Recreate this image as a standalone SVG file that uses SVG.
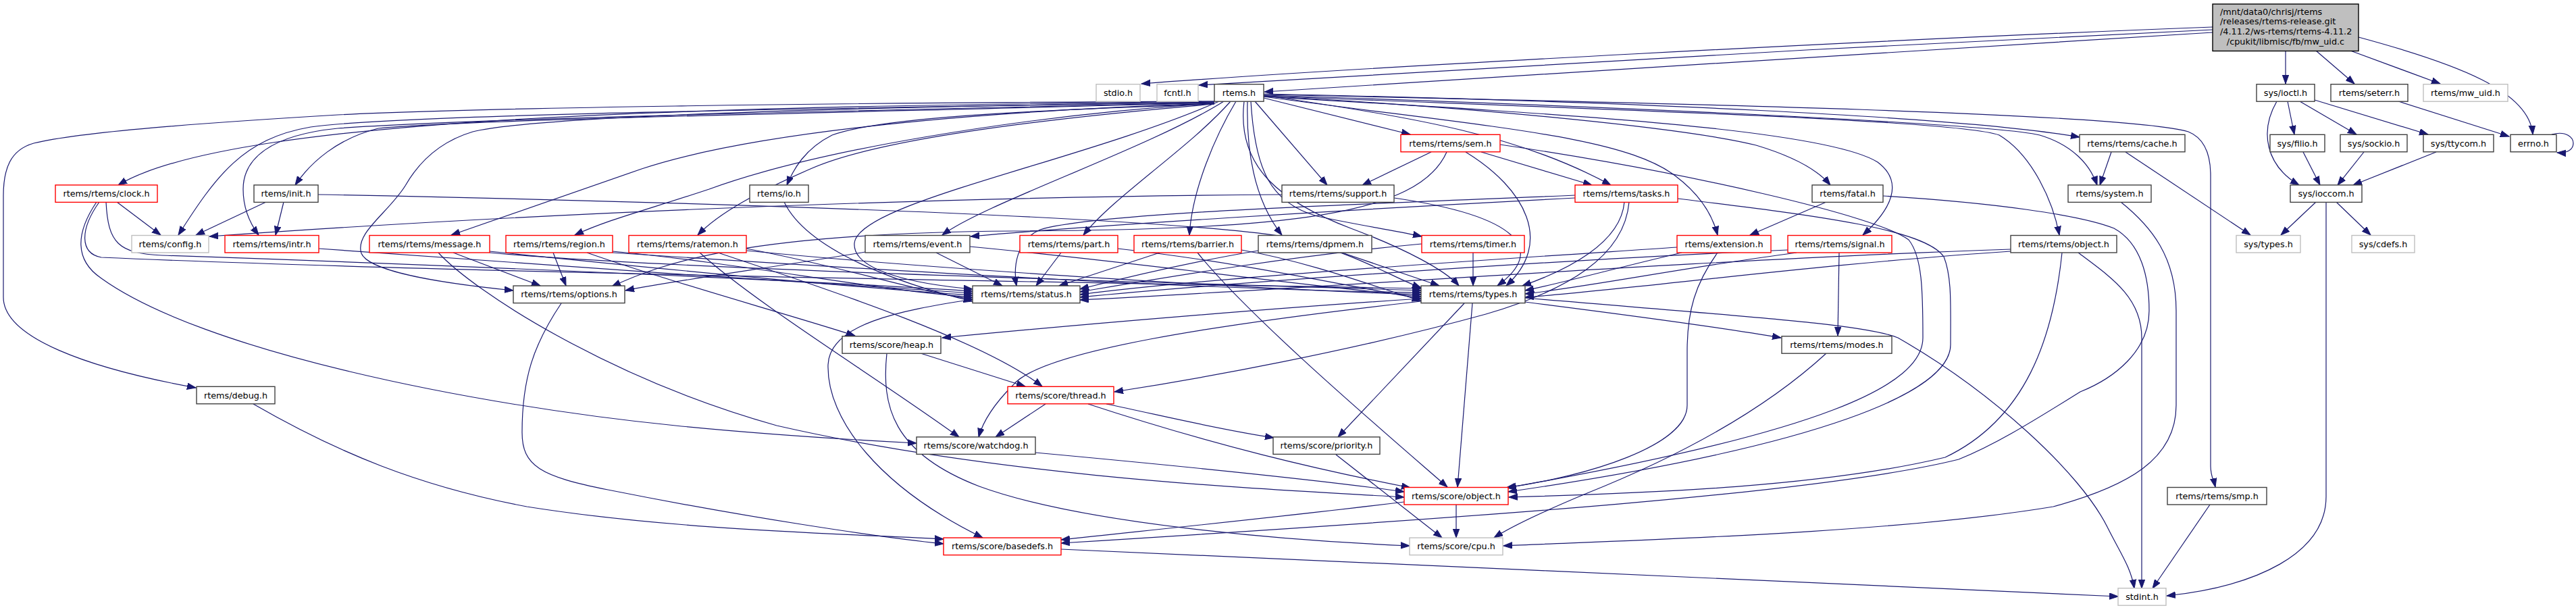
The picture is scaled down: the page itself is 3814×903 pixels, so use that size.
<svg xmlns="http://www.w3.org/2000/svg" width="3814" height="903" viewBox="0 0 3814 903">
<defs>
<marker id="ah" markerWidth="14" markerHeight="11" refX="13" refY="5" orient="auto" markerUnits="userSpaceOnUse"><path d="M0,0.3 L13,5 L0,9.7 Z" fill="#191970" stroke="#191970" stroke-width="1"/></marker>
<style>
.nd rect{fill:#fff;stroke:#404040;stroke-width:1.4}
.nd.r rect{stroke:#ff0000}
.nd.g rect{stroke:#bfbfbf}
.nd text{font-family:"DejaVu Sans","Liberation Sans",sans-serif;font-size:12.8px;fill:#000;text-anchor:middle}
.nd text.l{text-anchor:start}
.e path{fill:none;stroke:#191970;stroke-width:1.2;marker-end:url(#ah)}
</style>
</defs>
<rect width="3814" height="903" fill="#fff"/>
<g id="edges" class="e">
<path d="M3276,40 C2800,58 2000,100 1690,124"/>
<path d="M3276,44 C2800,66 2100,104 1775,126"/>
<path d="M3276,48 C2900,72 2300,108 1872,136"/>
<path d="M3384,75 L3384,124"/>
<path d="M3429,75 L3486,124"/>
<path d="M3480,75 L3613,124"/>
<path d="M3492,55 C3640,95 3745,135 3750,199"/>
<path d="M3371,150 C3345,195 3355,245 3404,274"/>
<path d="M3387,150 L3397,199"/>
<path d="M3405,150 L3489,199"/>
<path d="M3427,148 L3595,199"/>
<path d="M3551,150 L3715,202"/>
<path d="M3778,199 C3800,193 3810,204 3810,212 C3810,221 3802,227 3786,226"/>
<path d="M3410,225 L3435,274"/>
<path d="M3500,225 L3461,274"/>
<path d="M3607,225 L3484,274"/>
<path d="M3429,299 L3377,348"/>
<path d="M3459,299 L3510,348"/>
<path d="M3444,299 L3444,735 C3444,820 3340,868 3208,882"/>
<path d="M3126,225 L3109,274"/>
<path d="M3147,225 L3332,348"/>
<path d="M3140,299 C3185,335 3222,380 3222,460 L3222,600 C3222,680 3150,720 3040,750 C2800,790 2400,800 2226,808"/>
<path d="M2704,299 L2591,348"/>
<path d="M2788,290 C2950,300 3080,318 3130,338 C3170,360 3182,410 3182,460 C3182,520 3130,560 3080,580 C3000,630 2950,660 2900,680 C2700,730 2200,765 1571,804"/>
<path d="M3272,747 L3187,871"/>
<path d="M3077,374 C3125,410 3171,440 3171,500 L3171,871"/>
<path d="M3053,374 C3040,500 3000,620 2880,677 C2700,720 2450,730 2234,736"/>
<path d="M2977,369 C2500,385 1900,430 1599,444"/>
<path d="M2977,372 C2700,390 2400,430 2258,440"/>
<path d="M2723,374 L2721,497"/>
<path d="M2647,370 C2300,385 1800,420 1599,440"/>
<path d="M2660,374 C2500,395 2350,425 2258,435"/>
<path d="M2483,366 C2200,385 1800,410 1599,436"/>
<path d="M2490,374 C2400,395 2300,422 2258,430"/>
<path d="M2543,374 C2510,420 2498,460 2498,520 L2498,600 C2498,660 2350,705 2230,722"/>
<path d="M2332,289 C2000,303 1620,315 1540,340 C1505,355 1500,395 1505,423"/>
<path d="M2332,293 C2000,310 1600,335 1437,350"/>
<path d="M2405,299 C2400,360 2320,400 2254,423"/>
<path d="M2412,299 C2405,380 2320,430 2200,465 C2000,520 1780,560 1650,580"/>
<path d="M2484,294 C2700,320 2850,340 2878,380 C2890,410 2888,450 2888,510 C2888,580 2700,660 2233,728"/>
<path d="M2119,225 L2017,274"/>
<path d="M2193,225 L2357,274"/>
<path d="M2170,225 C2260,280 2300,360 2230,423"/>
<path d="M2142,225 C2100,320 1900,340 1500,342 C1100,345 980,390 906,424"/>
<path d="M2221,214 C2500,255 2780,320 2826,355 C2846,380 2847,430 2847,500 C2847,570 2700,640 2232,722"/>
<path d="M1898,288 C1300,292 700,322 310,350"/>
<path d="M2064,293 C2250,320 2290,370 2217,423"/>
<path d="M2181,374 L2181,423"/>
<path d="M2105,361 C1900,380 1700,415 1599,432"/>
<path d="M1987,374 L2131,423"/>
<path d="M1863,371 C1750,390 1650,415 1599,428"/>
<path d="M1717,374 L1568,423"/>
<path d="M1838,370 C1950,390 2050,430 2104,445"/>
<path d="M1773,374 C1850,470 2050,640 2143,721"/>
<path d="M1571,374 L1534,423"/>
<path d="M1655,368 C1850,390 2000,425 2104,442"/>
<path d="M1281,373 C1150,395 1000,415 926,430"/>
<path d="M1386,374 L1484,423"/>
<path d="M1436,365 C1700,390 1900,420 2104,439"/>
<path d="M1161,299 C1195,370 1330,420 1440,446"/>
<path d="M1105,368 C1250,395 1350,430 1440,443"/>
<path d="M1105,371 C1400,400 1900,430 2104,436"/>
<path d="M1036,374 C1120,450 1300,560 1420,647"/>
<path d="M1063,374 C1200,420 1450,500 1543,572"/>
<path d="M819,374 L838,423"/>
<path d="M869,374 C1000,420 1150,460 1266,497"/>
<path d="M907,372 C1100,390 1300,430 1440,440"/>
<path d="M907,374 C1300,400 1800,430 2104,433"/>
<path d="M671,374 L800,423"/>
<path d="M725,372 C900,390 1250,425 1440,437"/>
<path d="M725,374 C1000,400 1800,420 2104,430"/>
<path d="M649,374 C700,430 900,560 1150,630 C1500,710 1900,725 2079,736"/>
<path d="M472,368 C700,385 1200,420 1440,434"/>
<path d="M394,299 L290,348"/>
<path d="M420,299 L408,348"/>
<path d="M471,288 C1000,298 1700,320 1900,350 C2000,370 2060,410 2104,426"/>
<path d="M173,299 L238,348"/>
<path d="M157,299 C160,360 175,375 240,378 C600,390 1200,415 1440,431"/>
<path d="M147,299 C118,340 118,375 150,381 C700,405 1700,420 2104,427"/>
<path d="M143,299 C112,345 110,385 150,412 C300,520 700,600 1000,630 C1150,645 1280,652 1357,656"/>
<path d="M831,449 C790,510 773,560 773,640 C773,690 800,705 900,725 C1100,765 1300,795 1397,805"/>
<path d="M1440,443 C1330,460 1228,480 1226,540 C1224,620 1300,720 1455,796"/>
<path d="M375,598 C500,670 620,720 780,750 C1000,785 1250,790 1397,798"/>
<path d="M1363,523 L1518,572"/>
<path d="M1313,523 C1305,600 1320,670 1450,720 C1600,775 1900,800 2087,808"/>
<path d="M2104,442 C1900,455 1600,480 1395,500"/>
<path d="M2104,446 C1800,480 1540,520 1500,570 C1470,600 1455,625 1449,647"/>
<path d="M2168,449 L1981,647"/>
<path d="M2180,449 L2158,721"/>
<path d="M2258,447 C2400,465 2550,485 2637,500"/>
<path d="M2258,441 C2600,470 2760,480 2810,500 C2950,580 3080,700 3120,780 C3140,820 3155,840 3160,871"/>
<path d="M1548,598 L1474,647"/>
<path d="M1638,598 C1720,615 1800,635 1886,648"/>
<path d="M1611,598 C1800,660 1950,695 2088,722"/>
<path d="M1533,670 C1750,690 1950,710 2079,728"/>
<path d="M1978,673 L2135,796"/>
<path d="M2156,747 L2156,796"/>
<path d="M2079,743 C1900,765 1700,785 1571,799"/>
<path d="M2704,523 C2620,600 2500,670 2350,730 C2290,755 2240,778 2212,796"/>
<path d="M1571,813 C2000,830 2800,870 3136,883"/>
<path d="M1798,150 C1100,158 350,168 175,274"/>
<path d="M1798,150 C1200,152 700,160 500,170 C300,182 120,195 50,212 C15,222 5,250 5,290 L5,440 C5,500 130,545 290,574"/>
<path d="M1798,151 C1300,160 600,168 460,188 C360,205 320,260 264,348"/>
<path d="M1798,152 C1300,163 700,175 500,190 C400,200 360,235 360,280 C360,305 368,328 383,348"/>
<path d="M1798,152 C1300,166 700,176 560,190 C500,205 460,240 437,274"/>
<path d="M1798,153 C1400,166 1100,200 950,250 C850,285 750,320 668,348"/>
<path d="M1798,153 C1500,172 1200,225 1050,280 C960,310 900,325 851,348"/>
<path d="M1798,154 C1550,175 1300,205 1200,250 C1120,285 1065,315 1033,348"/>
<path d="M1798,154 C1500,164 1300,175 1232,200 C1192,220 1175,250 1165,274"/>
<path d="M1798,151 C1300,158 800,170 700,195 C650,210 620,240 600,275 C575,315 525,345 535,375 C545,400 640,418 760,430"/>
<path d="M1812,150 C1700,220 1460,300 1395,348"/>
<path d="M1822,150 C1760,220 1650,290 1604,348"/>
<path d="M1830,150 C1800,200 1765,280 1761,348"/>
<path d="M1805,150 C1600,240 1270,300 1265,360 C1262,400 1350,420 1440,428"/>
<path d="M1842,150 C1830,250 1900,300 2000,338 C2080,368 2140,400 2160,423"/>
<path d="M1847,150 C1845,230 1860,300 1898,348"/>
<path d="M1852,150 C1858,250 1880,300 1950,320 C2020,335 2070,342 2105,350"/>
<path d="M1858,150 L1965,274"/>
<path d="M1871,145 L2088,199"/>
<path d="M1871,141 C2100,175 2250,200 2385,274"/>
<path d="M1871,142 C2200,160 2500,190 2600,215 C2650,230 2690,250 2710,274"/>
<path d="M1871,143 C2200,188 2400,200 2480,260 C2520,290 2536,320 2543,348"/>
<path d="M1871,143 C2300,168 2700,190 2780,240 C2820,270 2800,310 2758,348"/>
<path d="M1871,142 C2400,163 2900,178 2960,200 C3010,230 3040,300 3049,348"/>
<path d="M1871,139 C2400,150 2900,172 3079,203"/>
<path d="M1871,141 C2400,158 2950,183 3020,200 C3070,215 3095,245 3105,274"/>
<path d="M1871,140 C2500,153 3150,168 3240,195 C3265,205 3273,230 3273,260 L3273,690 C3273,705 3278,712 3280,721"/>
</g>
<g id="n-mw" class="nd"><rect x="3276" y="6" width="216" height="69.5" style="fill:#bfbfbf;stroke:#000"/><text class="l" x="3287" y="21.5">/mnt/data0/chrisj/rtems</text><text class="l" x="3287" y="36.3">/releases/rtems-release.git</text><text class="l" x="3287" y="51">/4.11.2/ws-rtems/rtems-4.11.2</text><text x="3384" y="65.7">/cpukit/libmisc/fb/mw_uid.c</text></g>
<g id="n-stdio" class="nd g"><rect x="1623" y="124.7" width="65" height="25.5"/><text x="1655.5" y="142">stdio.h</text></g>
<g id="n-fcntl" class="nd g"><rect x="1713" y="124.7" width="61" height="25.5"/><text x="1743.5" y="142">fcntl.h</text></g>
<g id="n-rtems" class="nd"><rect x="1798" y="124.7" width="73" height="25.5"/><text x="1834.5" y="142">rtems.h</text></g>
<g id="n-ioctl" class="nd"><rect x="3341" y="124.7" width="86" height="25.5"/><text x="3384" y="142">sys/ioctl.h</text></g>
<g id="n-seterr" class="nd"><rect x="3451" y="124.7" width="114" height="25.5"/><text x="3508" y="142">rtems/seterr.h</text></g>
<g id="n-mwuid" class="nd g"><rect x="3588" y="124.7" width="125" height="25.5"/><text x="3650.5" y="142">rtems/mw_uid.h</text></g>
<g id="n-sem" class="nd r"><rect x="2074" y="199.3" width="147" height="25.5"/><text x="2147.5" y="216.6">rtems/rtems/sem.h</text></g>
<g id="n-cache" class="nd"><rect x="3079" y="199.3" width="156" height="25.5"/><text x="3157" y="216.6">rtems/rtems/cache.h</text></g>
<g id="n-filio" class="nd"><rect x="3361" y="199.3" width="81" height="25.5"/><text x="3401.5" y="216.6">sys/filio.h</text></g>
<g id="n-sockio" class="nd"><rect x="3465" y="199.3" width="99" height="25.5"/><text x="3514.5" y="216.6">sys/sockio.h</text></g>
<g id="n-ttycom" class="nd"><rect x="3588" y="199.3" width="104" height="25.5"/><text x="3640" y="216.6">sys/ttycom.h</text></g>
<g id="n-errno" class="nd"><rect x="3717" y="199.3" width="68" height="25.5"/><text x="3751" y="216.6">errno.h</text></g>
<g id="n-clock" class="nd r"><rect x="82" y="273.9" width="151" height="25.5"/><text x="157.5" y="291.2">rtems/rtems/clock.h</text></g>
<g id="n-init" class="nd"><rect x="376" y="273.9" width="95" height="25.5"/><text x="423.5" y="291.2">rtems/init.h</text></g>
<g id="n-io" class="nd"><rect x="1110" y="273.9" width="87" height="25.5"/><text x="1153.5" y="291.2">rtems/io.h</text></g>
<g id="n-support" class="nd"><rect x="1898" y="273.9" width="166" height="25.5"/><text x="1981" y="291.2">rtems/rtems/support.h</text></g>
<g id="n-tasks" class="nd r"><rect x="2332" y="273.9" width="152" height="25.5"/><text x="2408" y="291.2">rtems/rtems/tasks.h</text></g>
<g id="n-fatal" class="nd"><rect x="2683" y="273.9" width="105" height="25.5"/><text x="2735.5" y="291.2">rtems/fatal.h</text></g>
<g id="n-system" class="nd"><rect x="3062" y="273.9" width="123" height="25.5"/><text x="3123.5" y="291.2">rtems/system.h</text></g>
<g id="n-ioccom" class="nd"><rect x="3391" y="273.9" width="106" height="25.5"/><text x="3444" y="291.2">sys/ioccom.h</text></g>
<g id="n-config" class="nd g"><rect x="195" y="348.5" width="114" height="25.5"/><text x="252" y="365.8">rtems/config.h</text></g>
<g id="n-intr" class="nd r"><rect x="333" y="348.5" width="139" height="25.5"/><text x="402.5" y="365.8">rtems/rtems/intr.h</text></g>
<g id="n-message" class="nd r"><rect x="547" y="348.5" width="178" height="25.5"/><text x="636" y="365.8">rtems/rtems/message.h</text></g>
<g id="n-region" class="nd r"><rect x="749" y="348.5" width="158" height="25.5"/><text x="828" y="365.8">rtems/rtems/region.h</text></g>
<g id="n-ratemon" class="nd r"><rect x="931" y="348.5" width="174" height="25.5"/><text x="1018" y="365.8">rtems/rtems/ratemon.h</text></g>
<g id="n-event" class="nd"><rect x="1281" y="348.5" width="155" height="25.5"/><text x="1358.5" y="365.8">rtems/rtems/event.h</text></g>
<g id="n-part" class="nd r"><rect x="1510" y="348.5" width="145" height="25.5"/><text x="1582.5" y="365.8">rtems/rtems/part.h</text></g>
<g id="n-barrier" class="nd r"><rect x="1679" y="348.5" width="159" height="25.5"/><text x="1758.5" y="365.8">rtems/rtems/barrier.h</text></g>
<g id="n-dpmem" class="nd"><rect x="1863" y="348.5" width="168" height="25.5"/><text x="1947" y="365.8">rtems/rtems/dpmem.h</text></g>
<g id="n-timer" class="nd r"><rect x="2105" y="348.5" width="152" height="25.5"/><text x="2181" y="365.8">rtems/rtems/timer.h</text></g>
<g id="n-extension" class="nd r"><rect x="2483" y="348.5" width="139" height="25.5"/><text x="2552.5" y="365.8">rtems/extension.h</text></g>
<g id="n-signal" class="nd r"><rect x="2647" y="348.5" width="154" height="25.5"/><text x="2724" y="365.8">rtems/rtems/signal.h</text></g>
<g id="n-robject" class="nd"><rect x="2977" y="348.5" width="157" height="25.5"/><text x="3055.5" y="365.8">rtems/rtems/object.h</text></g>
<g id="n-systypes" class="nd g"><rect x="3311" y="348.5" width="95" height="25.5"/><text x="3358.5" y="365.8">sys/types.h</text></g>
<g id="n-cdefs" class="nd g"><rect x="3482" y="348.5" width="93" height="25.5"/><text x="3528.5" y="365.8">sys/cdefs.h</text></g>
<g id="n-options" class="nd"><rect x="760" y="423.1" width="165" height="25.5"/><text x="842.5" y="440.4">rtems/rtems/options.h</text></g>
<g id="n-status" class="nd"><rect x="1440" y="423.1" width="159" height="25.5"/><text x="1519.5" y="440.4">rtems/rtems/status.h</text></g>
<g id="n-types" class="nd"><rect x="2104" y="423.1" width="154" height="25.5"/><text x="2181" y="440.4">rtems/rtems/types.h</text></g>
<g id="n-heap" class="nd"><rect x="1247" y="497.7" width="146" height="25.5"/><text x="1320" y="515">rtems/score/heap.h</text></g>
<g id="n-modes" class="nd"><rect x="2638" y="497.7" width="163" height="25.5"/><text x="2719.5" y="515">rtems/rtems/modes.h</text></g>
<g id="n-debug" class="nd"><rect x="291" y="572.3" width="116" height="25.5"/><text x="349" y="589.6">rtems/debug.h</text></g>
<g id="n-thread" class="nd r"><rect x="1492" y="572.3" width="157" height="25.5"/><text x="1570.5" y="589.6">rtems/score/thread.h</text></g>
<g id="n-watchdog" class="nd"><rect x="1357" y="646.9" width="176" height="25.5"/><text x="1445" y="664.2">rtems/score/watchdog.h</text></g>
<g id="n-priority" class="nd"><rect x="1885" y="646.9" width="158" height="25.5"/><text x="1964" y="664.2">rtems/score/priority.h</text></g>
<g id="n-sobject" class="nd r"><rect x="2079" y="721.5" width="154" height="25.5"/><text x="2156" y="738.8">rtems/score/object.h</text></g>
<g id="n-smp" class="nd"><rect x="3209" y="721.5" width="147" height="25.5"/><text x="3282.5" y="738.8">rtems/rtems/smp.h</text></g>
<g id="n-basedefs" class="nd r"><rect x="1397" y="796.1" width="174" height="25.5"/><text x="1484" y="813.4">rtems/score/basedefs.h</text></g>
<g id="n-cpu" class="nd g"><rect x="2087" y="796.1" width="138" height="25.5"/><text x="2156" y="813.4">rtems/score/cpu.h</text></g>
<g id="n-stdint" class="nd g"><rect x="3136" y="870.7" width="71" height="25.5"/><text x="3171.5" y="888">stdint.h</text></g>
</svg>
